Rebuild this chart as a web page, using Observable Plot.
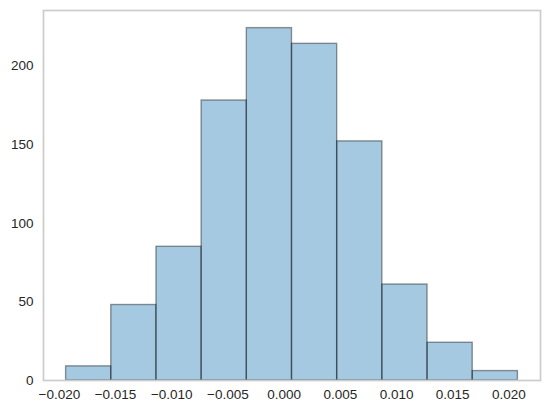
<!DOCTYPE html>
<html>
<head>
<meta charset="utf-8">
<script src="https://cdn.jsdelivr.net/npm/d3@7"></script>
<script src="https://cdn.jsdelivr.net/npm/@observablehq/plot@0.6"></script>
<style>
  html, body { margin: 0; padding: 0; background: #fff; }
  #chart { width: 548px; height: 413px; }
</style>
</head>
<body>
<div id="chart"></div>
<script>
// Histogram bin edges
const binEdges = [-0.0194, -0.01538, -0.01136, -0.00734, -0.00332, 0.0007, 0.00472, 0.00874, 0.01276, 0.01678, 0.0208];
// Counts per bin
const counts = [9, 48, 85, 178, 224, 214, 152, 61, 24, 6];
// Tick labels
const xTicks = [-0.020, -0.015, -0.010, -0.005, 0.000, 0.005, 0.010, 0.015, 0.020];
const yTicks = [0, 50, 100, 150, 200];

const bins = counts.map((c, i) => ({x1: binEdges[i], x2: binEdges[i + 1], count: c}));

const lo = binEdges[0], hi = binEdges[binEdges.length - 1];
const pad = (hi - lo) * 0.05;
const yMax = d3.max(counts) * 1.05;

const chart = Plot.plot({
  width: 548,
  height: 413,
  marginLeft: 43,
  marginRight: 8,
  marginTop: 10,
  marginBottom: 33,
  style: {fontFamily: "'Liberation Sans', Arial, sans-serif", fontSize: "13.5px", color: "#262626", background: "#fff"},
  x: {domain: [lo - pad, hi + pad]},
  y: {domain: [0, yMax]},
  marks: [
    Plot.rectY(bins, {
      x1: "x1", x2: "x2", y: "count",
      fill: "#1f77b4", fillOpacity: 0.4,
      stroke: "#000", strokeOpacity: 0.4, strokeWidth: 1.4
    }),
    Plot.frame({stroke: "#cccccc", strokeWidth: 1.7}),
    Plot.axisX({ticks: xTicks, tickSize: 0, tickPadding: 9, tickFormat: d3.format(".3f"), label: null, fill: "#262626"}),
    Plot.axisY({ticks: yTicks, tickSize: 0, tickPadding: 10, label: null, fill: "#262626"})
  ]
});
document.getElementById("chart").appendChild(chart);
</script>
</body>
</html>
